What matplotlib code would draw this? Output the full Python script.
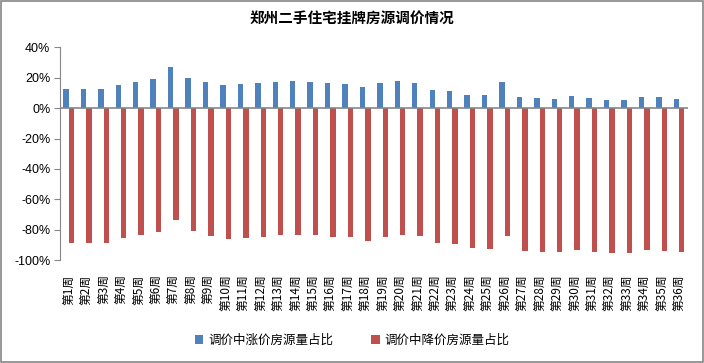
import matplotlib.pyplot as plt
import matplotlib.patches as mpatches
import numpy as np

plt.rcParams['font.family'] = ['Noto Sans CJK SC', 'DejaVu Sans']

# Weekly data
weeks = [f'第{i}周' for i in range(1, 37)]
rise_share = [12.5, 12.5, 12.5, 15.0, 17.0, 19.0, 27.0, 19.7, 17.0, 15.0,
              15.7, 16.4, 17.0, 17.7, 17.0, 16.4, 15.7, 13.8, 16.4, 17.7,
              16.4, 11.8, 11.1, 8.5, 8.5, 17.0, 7.2, 6.6, 5.9, 7.9,
              6.6, 5.2, 5.2, 7.2, 7.2, 5.9]
fall_share = [-88.3, -88.3, -88.3, -85.0, -83.0, -81.0, -73.2, -80.4, -83.7, -85.7,
              -85.0, -84.4, -83.0, -83.0, -83.0, -84.4, -84.4, -87.0, -84.4, -83.0,
              -83.7, -88.3, -89.0, -91.6, -92.2, -83.7, -93.6, -94.2, -94.2, -92.9,
              -94.2, -94.9, -94.9, -92.9, -93.6, -94.2]

blue = '#4f81bd'
red = '#c0504d'

fig = plt.figure(figsize=(7.04, 3.63), dpi=100)
ax = fig.add_axes([0.0852, 0.2824, 0.8918, 0.5881])

x = np.arange(len(weeks))
w = 0.31
ax.bar(x - w / 2, np.array(rise_share) / 100, w, color=blue, label='调价中涨价房源量占比', zorder=2)
ax.bar(x + w / 2, np.array(fall_share) / 100, w, color=red, label='调价中降价房源量占比', zorder=2)

ax.set_xlim(-0.5, len(weeks) - 0.5)
ax.set_ylim(-1.0, 0.4)
ax.set_yticks(np.arange(-1.0, 0.41, 0.2))
ax.set_yticklabels([f'{int(round(v * 100))}%' for v in np.arange(-1.0, 0.41, 0.2)],
                   family=['Liberation Sans', 'DejaVu Sans'], fontsize=9)
ax.set_xticks(x)
ax.set_xticklabels(weeks, rotation=90, fontsize=8.5, va='top')
ax.tick_params(axis='x', length=0, pad=10)
ax.tick_params(axis='y', direction='out', length=4, color='#868686', pad=3)

for s in ['top', 'right', 'bottom']:
    ax.spines[s].set_visible(False)
ax.spines['left'].set_color('#868686')
ax.axhline(0, color='#868686', linewidth=1.2, zorder=3)

fig.text(0.5, 0.95, '郑州二手住宅挂牌房源调价情况', ha='center', va='center',
         fontsize=10.5, fontweight='bold')

fig.legend(loc='center', bbox_to_anchor=(0.5, 0.063), ncol=2, frameon=False,
           fontsize=9, handlelength=0.7, handleheight=0.7, handletextpad=0.4,
           columnspacing=3)

border = mpatches.Rectangle((0.002, 0.003), 0.996, 0.994, transform=fig.transFigure,
                            fill=False, edgecolor='#868686', linewidth=1.2)
fig.patches.append(border)

plt.savefig('out.png', dpi=100)
